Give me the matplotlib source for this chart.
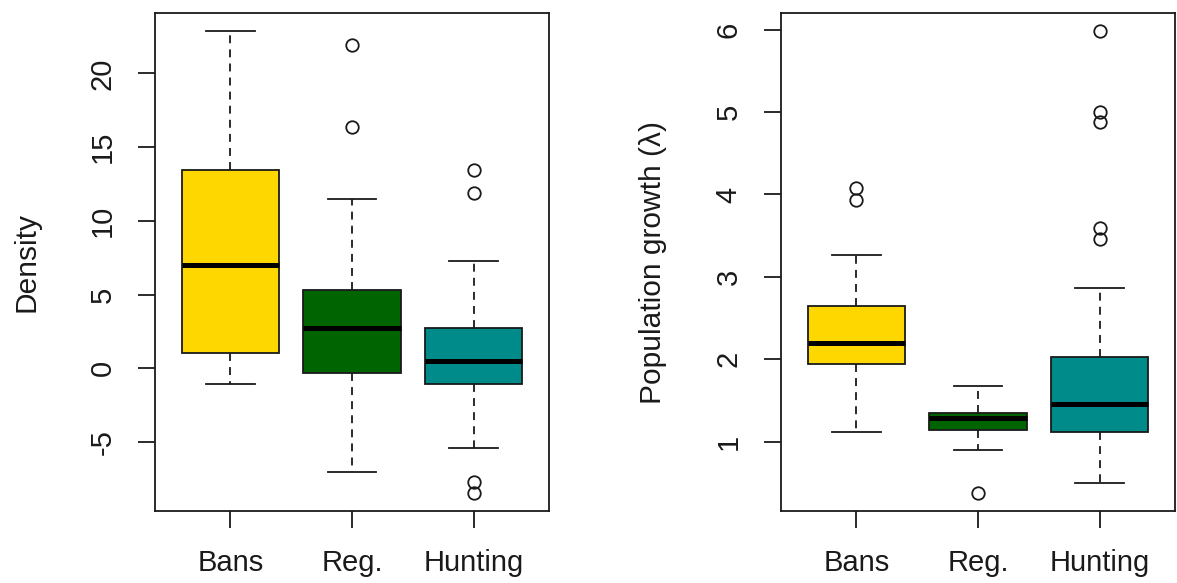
import matplotlib
matplotlib.use('Agg')
import matplotlib.pyplot as plt

plt.rcParams['font.family'] = ['Liberation Sans', 'DejaVu Sans']

groups = ['Bans', 'Reg.', 'Hunting']
colors = ['#FFD700', '#006400', '#008B8B']

# Density panel
dens_whislo = [-1.04, -7.02, -5.43]
dens_q1 = [1.06, -0.28, -1.06]
dens_med = [7.0, 2.76, 0.53]
dens_q3 = [13.44, 5.3, 2.76]
dens_whishi = [22.85, 11.49, 7.25]
dens_fliers = [[], [21.9, 16.4], [13.46, 11.9, -7.73, -8.42]]
dens_ticks = [-5, 0, 5, 10, 15, 20]

# Population growth panel
grow_whislo = [1.11, 0.90, 0.50]
grow_q1 = [1.94, 1.14, 1.11]
grow_med = [2.2, 1.28, 1.45]
grow_q3 = [2.65, 1.35, 2.03]
grow_whishi = [3.26, 1.68, 2.87]
grow_fliers = [[4.08, 3.93], [0.38], [5.98, 5.0, 4.88, 3.59, 3.46]]
grow_ticks = [1, 2, 3, 4, 5, 6]

FS = 21
LW = 1.3
INK = '#1a1a1a'


def make_stats(lo, q1, med, q3, hi, fl):
    return [dict(whislo=a, q1=b, med=c, q3=d, whishi=e, fliers=f, label=g)
            for a, b, c, d, e, f, g in zip(lo, q1, med, q3, hi, fl, groups)]


def draw_panel(ax, stats, yticks, ylabel):
    bp = ax.bxp(stats, positions=[1, 2, 3], widths=0.8, patch_artist=True,
                capwidths=0.4,
                boxprops=dict(edgecolor=INK, linewidth=LW),
                whiskerprops=dict(color=INK, linewidth=LW,
                                  linestyle=(0, (4.4, 3.4))),
                capprops=dict(color=INK, linewidth=LW),
                medianprops=dict(color='black', linewidth=3.6,
                                 solid_capstyle='butt'),
                flierprops=dict(marker='o', markerfacecolor='none',
                                markeredgecolor=INK, markersize=9,
                                markeredgewidth=LW))
    for patch, c in zip(bp['boxes'], colors):
        patch.set_facecolor(c)

    vals = []
    for s in stats:
        vals += [s['whislo'], s['whishi']] + list(s['fliers'])
    lo, hi = min(vals), max(vals)
    pad = 0.04 * (hi - lo)
    ax.set_ylim(lo - pad, hi + pad)
    ax.set_xlim(0.38, 3.62)
    ax.set_yticks(yticks)
    ax.set_yticklabels([str(t) for t in yticks])
    ax.set_xticks([1, 2, 3])
    ax.set_xticklabels(groups)

    for sp in ax.spines.values():
        sp.set_linewidth(1.3)
        sp.set_color(INK)
    ax.tick_params(axis='both', direction='out', length=12.5, width=1.3,
                   labelsize=FS, pad=15, colors=INK)
    ax.tick_params(axis='y', labelrotation=90)
    plt.setp(ax.get_yticklabels(), va='center', ha='right')

    ax.set_ylabel(ylabel, fontsize=FS + 0.5, va='center', color=INK)
    ax.yaxis.set_label_coords(-0.325, 0.5)


fig = plt.figure(figsize=(11.77, 5.83), dpi=100)
fig.patch.set_facecolor('white')

ax1 = fig.add_axes([155 / 1177, 72 / 583, 394 / 1177, 498 / 583])
ax2 = fig.add_axes([781 / 1177, 72 / 583, 394 / 1177, 498 / 583])

draw_panel(ax1, make_stats(dens_whislo, dens_q1, dens_med, dens_q3,
                           dens_whishi, dens_fliers),
           dens_ticks, 'Density')
draw_panel(ax2, make_stats(grow_whislo, grow_q1, grow_med, grow_q3,
                           grow_whishi, grow_fliers),
           grow_ticks, 'Population growth (\u03bb)')

fig.savefig('out.png', dpi=100, facecolor='white')
plt.close(fig)
